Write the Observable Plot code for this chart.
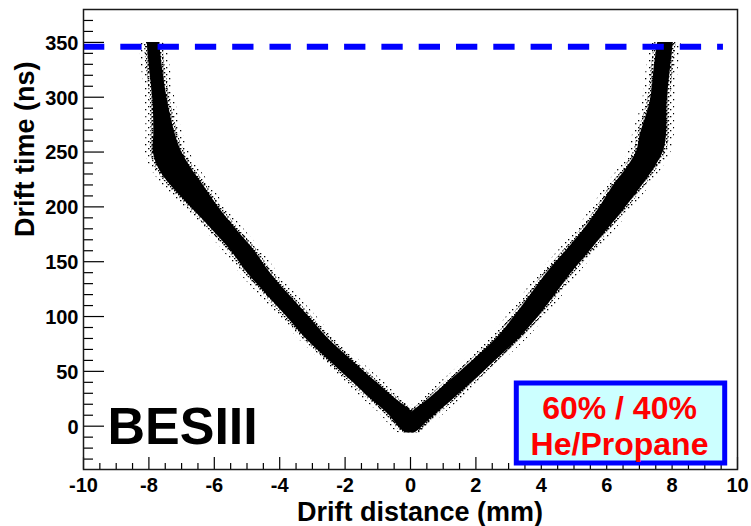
<!DOCTYPE html>
<html><head><meta charset="utf-8">
<script src="https://cdn.jsdelivr.net/npm/d3@7"></script>
<script src="https://cdn.jsdelivr.net/npm/@observablehq/plot@0.6"></script>
<style>
body{margin:0;background:#fff;}
#chart{width:751px;height:526px;}
</style>
</head><body><div id="chart"></div>
<script>
// ---- data ----
// drift time (ns) sample points along the band, with the band centre (mm) and its horizontal width (mm)
const bandTime    = [350, 326, 296, 266, 251, 235, 220, 205, 190, 175, 160, 139, 120, 100, 80, 60, 40, 25, 12, 2, -3, -6];
const leftCenter  = [-7.86, -7.78, -7.65, -7.52, -7.44, -7.20, -6.84, -6.44, -6.01, -5.57, -5.13, -4.62, -4.06, -3.45, -2.86, -2.14, -1.40, -0.84, -0.32, -0.10, -0.03, 0.00];
const leftWidth   = [0.38, 0.40, 0.45, 0.66, 0.86, 1.00, 1.00, 0.88, 0.78, 0.74, 0.72, 0.70, 0.68, 0.68, 0.68, 0.70, 0.72, 0.76, 0.80, 0.66, 0.50, 0.25];
const rightCenter = [7.80, 7.70, 7.59, 7.43, 7.33, 7.03, 6.66, 6.31, 5.95, 5.55, 5.13, 4.53, 4.06, 3.55, 2.98, 2.26, 1.52, 0.95, 0.42, 0.12, 0.03, 0.00];
const rightWidth  = [0.48, 0.50, 0.52, 0.80, 0.82, 0.85, 0.88, 0.82, 0.76, 0.72, 0.74, 0.75, 0.75, 0.74, 0.70, 0.70, 0.74, 0.76, 0.80, 0.66, 0.50, 0.25];

const xTickLabels = [-10, -8, -6, -4, -2, 0, 2, 4, 6, 8, 10];
const yTickLabels = [0, 50, 100, 150, 200, 250, 300, 350];
const xTitle = "Drift distance (mm)";
const yTitle = "Drift time (ns)";
const cutTime = 346;
const cutRange = [-10, 9.57];
const expLabel = "BESIII";
const gasLines = ["60% / 40%", "He/Propane"];

// ---- build tables ----
const leftRows = bandTime.map((t, i) => ({t, c: leftCenter[i], w: leftWidth[i]}));
const rightRows = bandTime.map((t, i) => ({t, c: rightCenter[i], w: rightWidth[i]}));
const cutRows = [{x1: cutRange[0], x2: cutRange[1], y: cutTime}];

const xMinor = d3.range(-10, 10.001, 0.5).filter(v => !xTickLabels.includes(v));
const yMinor = d3.range(-30, 380, 10).filter(v => !yTickLabels.includes(v));

const W = 751, H = 526, mL = 83, mR = 14, mT = 9, mB = 57;
const pw = W - mL - mR, ph = H - mT - mB;
const font = "'Liberation Sans', Arial, Helvetica, sans-serif";

function band(rows, extra, fill) {
  return Plot.areaX(rows, {
    y: "t",
    x1: d => d.c - d.w / 2 - extra,
    x2: d => d.c + d.w / 2 + extra,
    fill, curve: "catmull-rom"
  });
}

const plot = Plot.plot({
  width: W, height: H,
  marginLeft: mL, marginRight: mR, marginTop: mT, marginBottom: mB,
  x: {domain: [-10, 10], axis: null},
  y: {domain: [-39.5, 380], axis: null},
  style: {fontFamily: font, fontWeight: "bold", background: "white", color: "black"},
  marks: [
    // sparse scatter halo around the band
    band(leftRows, 0.24, "url(#dotsSparse)"),
    band(rightRows, 0.24, "url(#dotsSparse)"),
    band(leftRows, 0.09, "url(#dotsDense)"),
    band(rightRows, 0.09, "url(#dotsDense)"),
    // dense core of the V band
    band(leftRows, 0, "black"),
    band(rightRows, 0, "black"),
    // dashed cut line
    Plot.ruleY(cutRows, {y: "y", x1: "x1", x2: "x2", stroke: "#0000ff", strokeWidth: 6, strokeDasharray: "21.3,16"}),
    // ticks (inward)
    Plot.ruleX(xTickLabels, {x: d => d, insetTop: ph - 12, stroke: "black", strokeWidth: 1.2}),
    Plot.ruleX(xMinor, {x: d => d, insetTop: ph - 6, stroke: "black", strokeWidth: 1.2}),
    Plot.ruleY(yTickLabels, {y: d => d, insetRight: pw - 21, stroke: "black", strokeWidth: 1.2}),
    Plot.ruleY(yMinor, {y: d => d, insetRight: pw - 10, stroke: "black", strokeWidth: 1.2}),
    Plot.frame({stroke: "#1a1a1a", strokeWidth: 1.5}),
    // tick labels
    Plot.text(xTickLabels, {x: d => d, text: d => String(d), frameAnchor: "bottom", lineAnchor: "top", dy: 8, fontSize: 20, fontWeight: "bold", fill: "black"}),
    Plot.text(yTickLabels, {y: d => d, text: d => String(d), frameAnchor: "left", textAnchor: "end", dx: -5, dy: 1, fontSize: 20, fontWeight: "bold", fill: "black"}),
    // axis titles
    Plot.text([xTitle], {text: d => d, frameAnchor: "bottom", lineAnchor: "top", dx: 9.5, dy: 32.3, fontSize: 27, fontWeight: "bold", fill: "black"}),
    Plot.text([yTitle], {text: d => d, frameAnchor: "left", lineAnchor: "top", rotate: -90, dx: -69, dy: -2.5, fontSize: 27, fontWeight: "bold", fill: "black"}),
    // experiment label
    Plot.text([expLabel], {text: d => d, frameAnchor: "bottom-left", textAnchor: "start", lineAnchor: "top", dx: 24, dy: -62, fontSize: 52, fontWeight: "bold", fill: "black"}),
    // gas legend box
    Plot.frame({fill: "#ccffff", stroke: "#0000ff", strokeWidth: 5, insetLeft: 515.8 - mL, insetRight: (mL + pw) - 724.2, insetTop: 382.5 - mT, insetBottom: (mT + ph) - 462.5}),
    Plot.text([gasLines.join("\n")], {text: d => d, frameAnchor: "bottom-right", lineAnchor: "top", textAnchor: "middle", lineHeight: 1.11, dx: -118, dy: -75.5, fontSize: 32, fontWeight: "bold", fill: "#ff0000"})
  ]
});

const svg = d3.select(plot);
svg.insert("defs", ":first-child").html(`
  <pattern id="dotsSparse" width="7" height="7" patternUnits="userSpaceOnUse">
    <rect x="1" y="1" width="1.3" height="1.3" fill="black"/>
    <rect x="5" y="4" width="1.3" height="1.3" fill="black"/>
  </pattern>
  <pattern id="dotsDense" width="4" height="4" patternUnits="userSpaceOnUse">
    <rect x="0" y="0" width="1.4" height="1.4" fill="black"/>
    <rect x="2" y="2" width="1.4" height="1.4" fill="black"/>
    <rect x="3" y="0.5" width="1" height="1" fill="black"/>
  </pattern>`);

document.getElementById("chart").appendChild(plot);
</script>
</body></html>
